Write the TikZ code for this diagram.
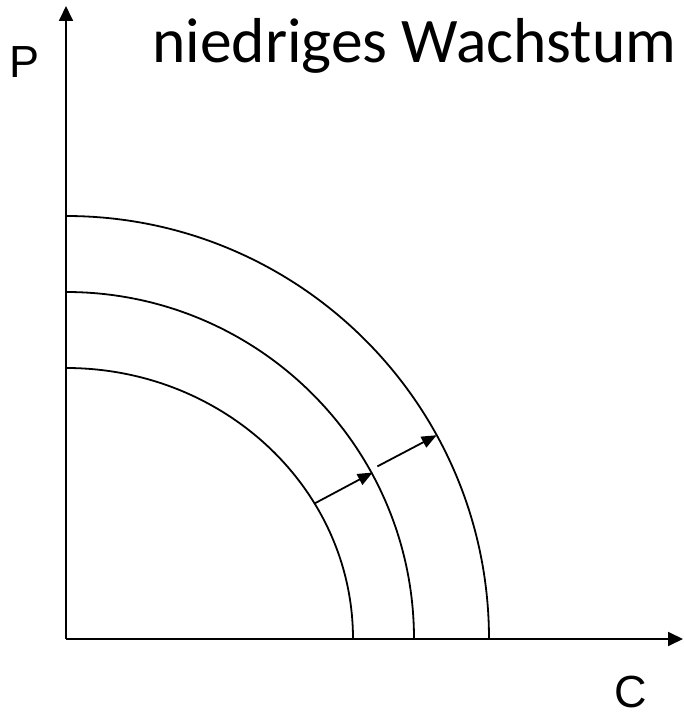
\documentclass[tikz,border=0pt]{standalone}
\usepackage{fontspec}
\setmainfont{Liberation Sans}
\newfontfamily\titlefont{Carlito}
\usetikzlibrary{arrows.meta, positioning, calc}

\begin{document}
\begin{tikzpicture}[
  x=1pt, y=1pt,
  axis/.style={line width=1.8pt, -{Triangle[length=15pt, width=14pt]}},
  curve/.style={line width=1.8pt},
  shiftarrow/.style={line width=1.8pt, -{Triangle[length=15pt, width=12pt]}},
  axislabel/.style={font=\fontsize{45}{54}\selectfont, inner sep=0pt}
]
  \useasboundingbox (0,0) rectangle (683,715);

  % Achsen
  \coordinate (O) at (66,76);
  \coordinate (ytop) at (66,709);
  \coordinate (xend) at (683,76);
  \draw[axis] (O) -- (ytop);
  \draw[axis] (O) -- (xend);
  \node[axislabel] (P) at (25,653) {P};
  \node[axislabel] (C) at (631,23) {C};

  % Titel
  \node[font=\titlefont\fontsize{63.5}{66}\selectfont, anchor=base west, inner sep=0pt] (titel) at (152,652) {niedriges Wachstum};

  % Kurven
  \foreach \rx/\ry in {287/271, 348/347, 423/423} {
    \draw[curve] ($(O)+(0,\ry)$) arc[start angle=90, end angle=0, x radius=\rx pt, y radius=\ry pt];
  }

  % Verschiebung
  \coordinate (a1) at ($(O)+(30:287 and 271)$);
  \coordinate (a2) at ($(O)+(28.5:349 and 349)$);
  \coordinate (b1) at ($(O)+(29:356 and 356)$);
  \coordinate (b2) at ($(O)+(28.8:423 and 423)$);
  \draw[shiftarrow] (a1) -- (a2);
  \draw[shiftarrow] (b1) -- (b2);
\end{tikzpicture}
\end{document}
